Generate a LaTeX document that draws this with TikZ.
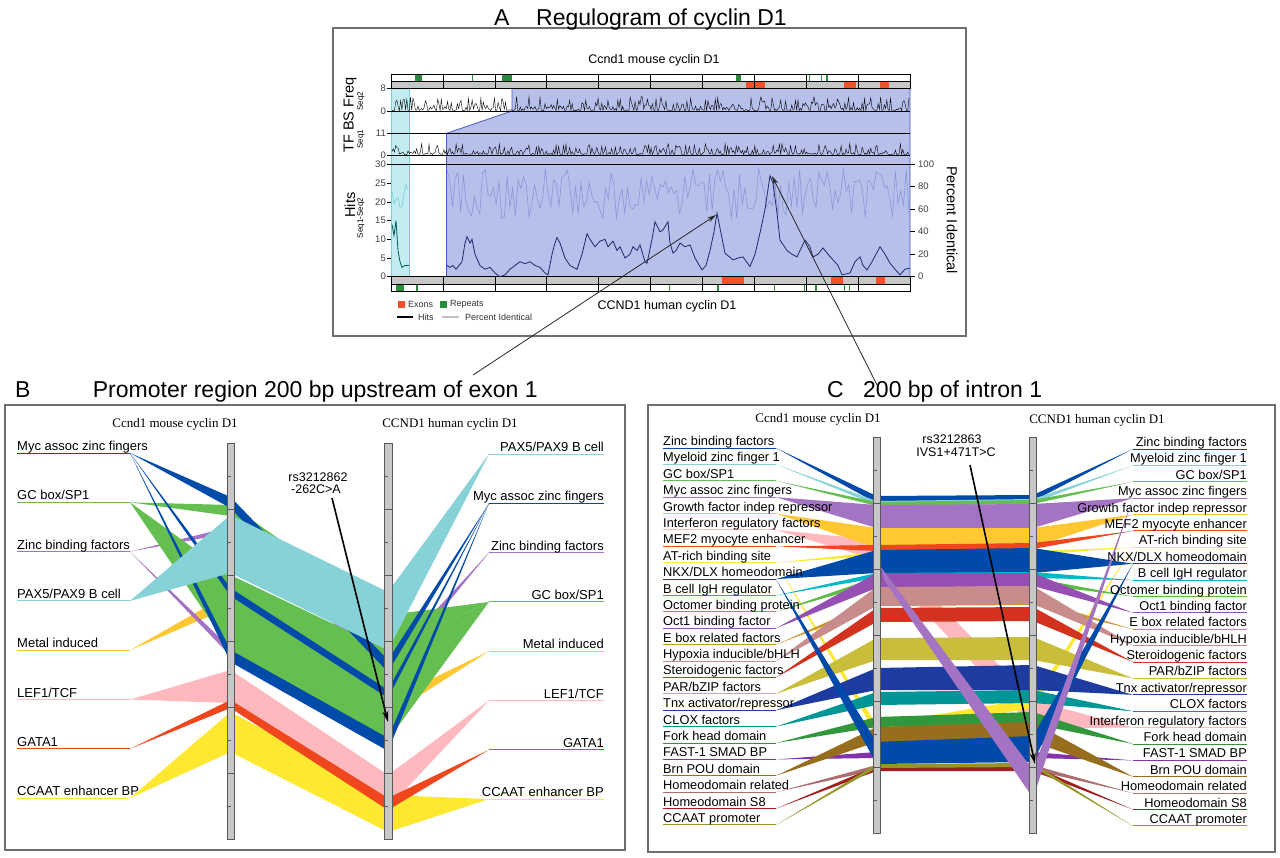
\documentclass[tikz,border=0pt]{standalone}
\usepackage{fontspec}
\setmainfont{Liberation Sans}
\newfontfamily\serifhead{Liberation Serif}
\usetikzlibrary{arrows.meta}

% factor colours
\definecolor{cMyc}{RGB}{0,75,170}
\definecolor{cGC}{RGB}{100,190,80}
\definecolor{cZinc}{RGB}{165,115,195}
\definecolor{cPax}{RGB}{135,210,215}
\definecolor{cMetal}{RGB}{255,200,50}
\definecolor{cLef}{RGB}{255,185,190}
\definecolor{cGata}{RGB}{240,70,30}
\definecolor{cCcaat}{RGB}{255,232,50}
\definecolor{cTeal}{RGB}{0,185,200}
\definecolor{cOcto}{RGB}{90,190,70}
\definecolor{cOct}{RGB}{150,80,180}
\definecolor{cEbox}{RGB}{200,150,40}
\definecolor{cHyp}{RGB}{200,140,140}
\definecolor{cSter}{RGB}{210,50,30}
\definecolor{cPar}{RGB}{200,190,60}
\definecolor{cTnx}{RGB}{30,60,160}
\definecolor{cClox}{RGB}{0,150,150}
\definecolor{cFork}{RGB}{50,150,60}
\definecolor{cFast}{RGB}{130,50,170}
\definecolor{cBrn}{RGB}{150,110,30}
\definecolor{cHrel}{RGB}{170,110,110}
\definecolor{cHs}{RGB}{160,30,30}
\definecolor{cCpro}{RGB}{150,150,40}
% regulogram colours
\definecolor{trackgrey}{RGB}{198,200,200}
\definecolor{regfill}{RGB}{182,192,235}
\definecolor{regedge}{RGB}{70,90,190}
\definecolor{cyfill}{RGB}{195,236,240}
\definecolor{cyedge}{RGB}{110,210,215}
\definecolor{hitcol}{RGB}{30,40,110}
\definecolor{pctcol}{RGB}{140,150,215}
\definecolor{cExon}{RGB}{245,80,40}
\definecolor{cRep}{RGB}{40,140,60}
\definecolor{framecol}{RGB}{110,110,110}

% chromosome bar with dividers and ticks
\newcommand{\chrbar}[2]{%
  \draw[chrbar] (#1,#2) rectangle ++(7.5,396);
  \foreach \k in {1,...,5} \draw[chrline] (#1,#2+66*\k) -- ++(7.5,0);
  \foreach \k in {0,...,5} \draw[chrline] (#1,#2+33+66*\k) -- ++(3.5,0);
}

\begin{document}
\begin{tikzpicture}[x=1pt, y=-1pt,
    frame/.style={draw=framecol, line width=1.2pt},
    title/.style={font=\fontsize{23}{26}\selectfont, inner sep=0pt},
    hdr/.style={font=\serifhead\fontsize{13}{15}\selectfont, inner sep=0pt},
    hdrA/.style={font=\fontsize{12.5}{14}\selectfont, inner sep=0pt},
    lblB/.style={font=\fontsize{13}{15}\selectfont, inner sep=0pt},
    lblC/.style={font=\fontsize{12.8}{14}\selectfont, inner sep=0pt},
    tick/.style={font=\fontsize{9.5}{11}\selectfont, inner sep=1pt, text=black!75},
    axtitle/.style={font=\fontsize{14.5}{16}\selectfont, inner sep=0pt},
    subax/.style={font=\fontsize{8}{9}\selectfont, inner sep=0pt},
    leg/.style={font=\fontsize{9}{10}\selectfont, inner sep=0pt, text=black!80},
    rs/.style={font=\fontsize{12.5}{14}\selectfont, inner sep=0pt},
    uline/.style={line width=1pt},
    chrbar/.style={fill=black!22, draw=black!65, line width=0.8pt},
    chrline/.style={draw=black!65, line width=0.7pt},
    axis/.style={black, line width=0.6pt},
    spike/.style={black, line width=0.4pt},
    ptr/.style={black!85, line width=0.8pt, -{Stealth[length=9pt, width=5pt]}},
    snp/.style={black, line width=1.6pt, -{Stealth[length=11pt, width=6pt]}}]

\useasboundingbox (0,0) rectangle (1280,857);
\fill[white] (0,0) rectangle (1280,857);

%%% ---------------- panel A : regulogram ----------------
\draw[frame] (333,28) rectangle (966,336);
\node[title, anchor=base west] (tA) at (494,25) {A};
\node[title, anchor=base west] (tAtxt) at (536,25) {Regulogram of cyclin D1};
\node[hdrA] (mouseA) at (654,60) {Ccnd1 mouse cyclin D1};
\node[hdrA] (humanA) at (667,306) {CCND1 human cyclin D1};

% aligned regions
\fill[cyfill] (391,88.3) rectangle (409,276.7);
\draw[cyedge, line width=0.8pt] (391,88.3) -- (391,276.7) (409,88.3) -- (409,276.7);
\filldraw[fill=regfill, draw=regedge, line width=0.8pt]
  (512,88.3) -- (910,88.3) -- (910,276.7) -- (446.5,276.7) -- (446.5,133.3) -- (512,111) -- cycle;

% exon / repeat rows
\foreach \ya/\yb/\fc in {74.3/81/white, 81/88.3/trackgrey, 276.7/284/trackgrey, 284/291.3/white}
  \filldraw[fill=\fc, draw=black, line width=0.6pt] (391,\ya) rectangle (910,\yb);
\foreach \xa/\xb in {746/765, 844/856, 880/889} \fill[cExon] (\xa,81.5) rectangle (\xb,87.8);
\foreach \xa/\xb in {415/422, 472/473, 502/512, 736/741, 809/810, 821/822, 826/828} \fill[cRep] (\xa,74.8) rectangle (\xb,80.5);
\foreach \xa/\xb in {722/744, 831/843, 876/885} \fill[cExon] (\xa,277.2) rectangle (\xb,283.5);
\foreach \xa/\xb in {396/404, 416/418, 669/670, 717/719, 774/775, 804/805, 815/817, 844/845, 849/850} \fill[cRep] (\xa,284.5) rectangle (\xb,290.8);
\foreach \k in {1,...,9} {
  \draw[axis] (391+51.9*\k,74.3) -- ++(0,14);
  \draw[axis] (391+51.9*\k,276.7) -- ++(0,14.6);
}
\foreach \y in {111,133.3,155,164.3} \draw[axis] (391,\y) -- (910,\y);

% left and right scales
\foreach \y/\t [count=\i] in {88.3/8, 111/0, 133.3/11, 155/0} {
  \draw[axis] (387,\y) -- (391,\y);
  \node[tick, anchor=east] (tf\i) at (387,\y) {\t};
}
\foreach \h in {0,5,...,30} {
  \draw[axis] (387,276.7-3.74*\h) -- ++(4,0);
  \node[tick, anchor=east] (hl\h) at (387,276.7-3.74*\h) {\h};
}
\foreach \p in {0,20,...,100} {
  \draw[axis] (910,276.7-1.125*\p) -- ++(5,0);
  \node[tick, anchor=west] (pr\p) at (917,276.7-1.125*\p) {\p};
}
\node[axtitle, rotate=90] (tfbs) at (350,115) {TF BS Freq};
\node[subax, rotate=90] (sq2) at (361,101) {Seq2};
\node[subax, rotate=90] (sq1) at (361,139) {Seq1};
\node[axtitle, rotate=90] (hits) at (350,205) {Hits};
\node[subax, rotate=90] (sq12) at (361,218) {Seq1-Seq2};
\node[axtitle, rotate=-90] (pid) at (952,220) {Percent Identical};

% binding-site frequency traces
\pgfmathsetseed{4711}
\draw[spike] plot[domain=392:909, samples=420] (\x,{110.5-14*rnd^3});
\draw[spike] plot[domain=392:909, samples=420] (\x,{154.5-11*rnd^3});

% percent identical
\begin{scope}[shift={(0,276.7)}, y=1.125pt]
  \draw[pctcol, line width=0.6pt] plot[domain=447:909, samples=170] (\x,{52+44*rnd});
  \draw[cyedge, line width=0.6pt] plot[domain=392:408, samples=9] (\x,{55+30*rnd});
\end{scope}

% hits
\begin{scope}[shift={(0,276.7)}, y=3.74pt]
  \draw[teal!70!black, line width=0.8pt] plot coordinates {(392,14) (394,11) (396,15) (398,7) (400,4) (402,2.5) (405,3) (409,3)};
  \draw[hitcol, line width=0.8pt] plot coordinates {(447,3) (450,2.5) (453,3) (456,2) (459,3) (462,4) (465,9) (467,10.7)
    (470,9) (472,10) (475,6) (480,3) (485,2) (490,2.5) (495,1) (500,0) (505,0.5) (510,2) (515,3) (520,4) (525,3.5)
    (530,4) (535,3) (540,2.5) (545,1) (548,0.5) (552,6) (555,9) (557,10.5) (560,9) (565,5) (570,3) (577,2) (582,6)
    (587,11.5) (590,10) (595,8) (600,9.5) (605,10) (608,8) (613,9.5) (617,7) (620,8) (625,5) (630,6) (633,8) (637,7)
    (640,8.5) (645,4) (647,3.6) (652,10) (655,14.7) (660,12) (663,12.5) (668,14.7) (670,9) (673,6.3) (676,7) (680,9)
    (685,8) (690,8.5) (695,5) (702,1.8) (706,3) (710,7) (714,12) (717,17) (720,13) (725,6.3) (733,4.5) (738,5)
    (743,5.3) (750,2.7) (755,6) (760,11.7) (765,18) (770,27) (773,25) (777,17) (780,9.8) (787,7) (792,6) (797,5.3)
    (805,9.8) (810,8) (813,5.3) (818,6) (823,7.7) (828,6) (833,4.5) (838,3) (842,0.5) (850,1) (855,4) (860,5.3)
    (863,3) (867,1.8) (872,4) (880,8) (885,6) (890,3.6) (895,2) (900,0.5) (905,2) (910,2.3)};
\end{scope}

% legend
\fill[cExon] (398,301) rectangle (405,308);
\node[leg, anchor=west] (lgEx) at (408,304.5) {Exons};
\fill[cRep] (440,301) rectangle (447,308);
\node[leg, anchor=west] (lgRep) at (450,304.5) {Repeats};
\draw[black, line width=1.6pt] (397,317) -- (413,317);
\node[leg, anchor=west] (lgHit) at (418,317) {Hits};
\draw[black!25, line width=1.6pt] (442,317) -- (459,317);
\node[leg, anchor=west] (lgPct) at (465,317) {Percent Identical};

% pointers from panels B and C
\coordinate (pB) at (473,375);
\coordinate (pkB) at (716,215);
\coordinate (pC) at (877,385);
\coordinate (pkC) at (772,176);
\draw[ptr] (pB) -- (pkB);
\draw[ptr] (pC) -- (pkC);

%%% ---------------- panel B : promoter ----------------
\draw[frame] (5,405) rectangle (625,850);
\node[title, anchor=base west] (tB) at (15,397) {B};
\node[title, anchor=base east] (tBtxt) at (538,397) {Promoter region 200 bp upstream of exon 1};
\node[hdr] (mouseB) at (175,424) {Ccnd1 mouse cyclin D1};
\node[hdr] (humanB) at (450,424) {CCND1 human cyclin D1};

\foreach \i in {1,...,8} {
  \coordinate (bl\i) at (130,{453+49.3*(\i-1)});
  \coordinate (br\i) at (489,{454+49.3*(\i-1)});
}
% ribbons: colour / left row / left bar span / right bar span / right row
\foreach \c/\l/\aa/\ab/\ba/\bb/\r in {cMetal/5/593/607/700/716/5, cZinc/3/527/533/662/672/3,
    cZinc/3/648/656/668/676/3, cGC/2/505/516/615/650/4, cGC/2/575/650/650/740/4,
    cMyc/1/497/508/660/672/2, cMyc/1/588/596/690/698/2, cMyc/1/650/662/738/751/2,
    cPax/4/515/573/592/650/1, cCcaat/8/712/752/795/832/8, cLef/6/670/703/775/808/6,
    cGata/7/700/708/798/810/7}
  \fill[\c] (bl\l) -- (230.5,\aa) -- (388,\ba) -- (br\r) -- (388,\bb) -- (230.5,\ab) -- cycle;

\chrbar{227}{443}
\chrbar{384.5}{443}

\foreach \t/\c [count=\i] in {{Myc assoc zinc fingers}/cMyc, {GC box/SP1}/cGC, {Zinc binding factors}/cZinc,
    {PAX5/PAX9 B cell}/cPax, {Metal induced}/cMetal, {LEF1/TCF}/cLef, GATA1/cGata, {CCAAT enhancer BP}/cCcaat} {
  \draw[uline, \c] (17,{453+49.3*(\i-1)}) -- (bl\i);
  \node[lblB, anchor=base west] (blt\i) at (17,{450.5+49.3*(\i-1)}) {\t};
}
\foreach \t/\c [count=\i] in {{PAX5/PAX9 B cell}/cPax, {Myc assoc zinc fingers}/cMyc, {Zinc binding factors}/cZinc,
    {GC box/SP1}/cGC, {Metal induced}/cMetal, {LEF1/TCF}/cLef, GATA1/cGata, {CCAAT enhancer BP}/cCcaat} {
  \draw[uline, \c] (br\i) -- (604,{454+49.3*(\i-1)});
  \node[lblB, anchor=base east] (brt\i) at (604,{451.5+49.3*(\i-1)}) {\t};
}

% SNP in the promoter
\node[rs] (rsB) at (318,477) {rs3212862};
\node[rs] (rsBb) at (316,489) {-262C>A};
\coordinate (rsBtail) at (332,498);
\coordinate (rsBtip) at (388,722);
\draw[snp] (rsBtail) -- (rsBtip);

%%% ---------------- panel C : intron 1 ----------------
\draw[frame] (648,405) rectangle (1275,852);
\node[title, anchor=base west] (tC) at (827,397) {C};
\node[title, anchor=base west] (tCtxt) at (863,397) {200 bp of intron 1};
\node[hdr] (mouseC) at (818,419) {Ccnd1 mouse cyclin D1};
\node[hdr] (humanC) at (1097,420) {CCND1 human cyclin D1};

\foreach \i in {1,...,24} {
  \coordinate (cl\i) at (776,{448+16.39*(\i-1)});
  \coordinate (cr\i) at (1133,{449+16.39*(\i-1)});
}
\foreach \c/\l/\aa/\ab/\ba/\bb/\r in {cLef/6/540/560/700/728/18, cCcaat/8/725/735/698/708/7,
    cMyc/1/496/503/495/501/1, cPax/2/501/505/499/503/2, cGC/3/502/506/500/504/3,
    cZinc/4/505/528/504/528/4, cMetal/5/528/548/528/547/5, cGata/7/545/551/543/549/6,
    cCcaat/8/552/556/551/555/7, cMyc/9/550/573/548/573/8, cTeal/10/573/578/572/578/9,
    cOcto/11/577/583/578/584/10, cOct/12/573/588/573/586/11, cEbox/13/600/606/599/605/12,
    cHyp/14/587/606/586/604/13, cSter/15/608/622/607/621/14, cPar/16/638/660/637/660/15,
    cTnx/17/668/690/665/690/16, cClox/18/692/705/690/703/17, cFork/19/717/727/712/724/19,
    cFast/20/752/758/752/758/20, cBrn/21/727/742/722/742/21, cHrel/22/765/770/765/770/22,
    cHs/23/766/771/766/771/23, cCpro/24/764/768/763/767/24, cMyc/9/742/764/736/762/8}
  \fill[\c] (cl\l) -- (876.5,\aa) -- (1033,\ba) -- (cr\r) -- (1033,\bb) -- (876.5,\ab) -- cycle;
\fill[cZinc] (880,566) -- (1033,770) -- (cr4) -- (1033,798) -- (884,580) -- cycle;

\chrbar{873}{437}
\chrbar{1029}{437}

\foreach \t/\c [count=\i] in {{Zinc binding factors}/cMyc, {Myeloid zinc finger 1}/cPax, {GC box/SP1}/cGC,
    {Myc assoc zinc fingers}/cZinc, {Growth factor indep repressor}/cMetal, {Interferon regulatory factors}/cLef,
    {MEF2 myocyte enhancer}/cGata, {AT-rich binding site}/cCcaat, {NKX/DLX homeodomain}/cMyc,
    {B cell IgH regulator}/cTeal, {Octomer binding protein}/cOcto, {Oct1 binding factor}/cOct,
    {E box related factors}/cEbox, {Hypoxia inducible/bHLH}/cHyp, {Steroidogenic factors}/cSter,
    {PAR/bZIP factors}/cPar, {Tnx activator/repressor}/cTnx, {CLOX factors}/cClox, {Fork head domain}/cFork,
    {FAST-1 SMAD BP}/cFast, {Brn POU domain}/cBrn, {Homeodomain related}/cHrel, {Homeodomain S8}/cHs,
    {CCAAT promoter}/cCpro} {
  \draw[uline, \c] (663,{448+16.39*(\i-1)}) -- (cl\i);
  \node[lblC, anchor=base west] (clt\i) at (663,{445.5+16.39*(\i-1)}) {\t};
}
\foreach \t/\c [count=\i] in {{Zinc binding factors}/cMyc, {Myeloid zinc finger 1}/cPax, {GC box/SP1}/cGC,
    {Myc assoc zinc fingers}/cZinc, {Growth factor indep repressor}/cMetal, {MEF2 myocyte enhancer}/cGata,
    {AT-rich binding site}/cCcaat, {NKX/DLX homeodomain}/cMyc, {B cell IgH regulator}/cTeal,
    {Octomer binding protein}/cOcto, {Oct1 binding factor}/cOct, {E box related factors}/cEbox,
    {Hypoxia inducible/bHLH}/cHyp, {Steroidogenic factors}/cSter, {PAR/bZIP factors}/cPar,
    {Tnx activator/repressor}/cTnx, {CLOX factors}/cClox, {Interferon regulatory factors}/cLef,
    {Fork head domain}/cFork, {FAST-1 SMAD BP}/cFast, {Brn POU domain}/cBrn, {Homeodomain related}/cHrel,
    {Homeodomain S8}/cHs, {CCAAT promoter}/cCpro} {
  \draw[uline, \c] (cr\i) -- (1247,{449+16.39*(\i-1)});
  \node[lblC, anchor=base east] (crt\i) at (1247,{446.5+16.39*(\i-1)}) {\t};
}

% SNP in intron 1
\node[rs] (rsC) at (952,439) {rs3212863};
\node[rs] (rsCb) at (956,452) {IVS1+471T>C};
\coordinate (rsCtail) at (970,465);
\coordinate (rsCtip) at (1035,764);
\draw[snp] (rsCtail) -- (rsCtip);

\end{tikzpicture}
\end{document}
